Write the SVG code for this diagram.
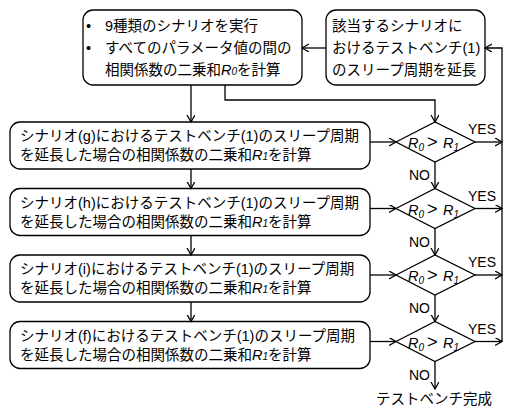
<svg xmlns="http://www.w3.org/2000/svg" width="511" height="407" viewBox="0 0 511 407">
<style>
.box{fill:#fff;stroke:#000;stroke-width:1.3}
.ln{fill:none;stroke:#000;stroke-width:1.3}
text{font-family:"Liberation Sans","Noto Sans CJK JP",sans-serif;font-size:14.5px;fill:#000}
.it{font-style:italic}
.sub{font-style:italic;font-size:10px}
.gt{font-size:18px}
.lbl{font-size:14px}
</style>
<defs>
<marker id="ah" markerWidth="10" markerHeight="10" refX="7" refY="4" orient="auto" markerUnits="userSpaceOnUse">
<path d="M0,0 L7,4 L0,8" fill="none" stroke="#000" stroke-width="1.3"/>
</marker>
</defs>

<g id="start">
<rect class="box" x="83" y="10" width="219" height="75" rx="10"/>
<text x="86" y="31">•</text><text x="105" y="31">9種類のシナリオを実行</text>
<text x="86" y="53">•</text><text x="105" y="53">すべてのパラメータ値の間の</text>
<text x="105" y="75">相関係数の二乗和<tspan class="it">R</tspan><tspan class="sub">0</tspan>を計算</text>
</g>

<g id="extend">
<rect class="box" x="326" y="10" width="159" height="75" rx="10"/>
<text x="332" y="31">該当するシナリオに</text>
<text x="332" y="53">おけるテストベンチ(1)</text>
<text x="332" y="75">のスリープ周期を延長</text>
</g>

<g id="proc-g">
<rect class="box" x="10" y="122" width="360" height="47" rx="10"/>
<text x="20" y="141">シナリオ(g)におけるテストベンチ(1)のスリープ周期</text>
<text x="20" y="160">を延長した場合の相関係数の二乗和<tspan class="it">R</tspan><tspan class="sub">1</tspan>を計算</text>
</g>
<g id="proc-h">
<rect class="box" x="10" y="188.5" width="360" height="47" rx="10"/>
<text x="20" y="207.5">シナリオ(h)におけるテストベンチ(1)のスリープ周期</text>
<text x="20" y="226.5">を延長した場合の相関係数の二乗和<tspan class="it">R</tspan><tspan class="sub">1</tspan>を計算</text>
</g>
<g id="proc-i">
<rect class="box" x="10" y="255" width="360" height="47" rx="10"/>
<text x="20" y="274">シナリオ(i)におけるテストベンチ(1)のスリープ周期</text>
<text x="20" y="293">を延長した場合の相関係数の二乗和<tspan class="it">R</tspan><tspan class="sub">1</tspan>を計算</text>
</g>
<g id="proc-f">
<rect class="box" x="10" y="321.5" width="360" height="47" rx="10"/>
<text x="20" y="340.5">シナリオ(f)におけるテストベンチ(1)のスリープ周期</text>
<text x="20" y="359.5">を延長した場合の相関係数の二乗和<tspan class="it">R</tspan><tspan class="sub">1</tspan>を計算</text>
</g>

<g id="dec1">
<polygon class="box" points="396,142 435,122 475,142 435,162"/>
<text y="148"><tspan class="it" x="408">R</tspan><tspan class="sub" dy="3">0</tspan><tspan class="gt" x="427" dy="-3">&gt;</tspan><tspan class="it" x="443">R</tspan><tspan class="sub" dy="3">1</tspan></text>
</g>
<g id="dec2">
<polygon class="box" points="396,208.5 435,188.5 475,208.5 435,228.5"/>
<text y="214.5"><tspan class="it" x="408">R</tspan><tspan class="sub" dy="3">0</tspan><tspan class="gt" x="427" dy="-3">&gt;</tspan><tspan class="it" x="443">R</tspan><tspan class="sub" dy="3">1</tspan></text>
</g>
<g id="dec3">
<polygon class="box" points="396,275 435,255 475,275 435,295"/>
<text y="281"><tspan class="it" x="408">R</tspan><tspan class="sub" dy="3">0</tspan><tspan class="gt" x="427" dy="-3">&gt;</tspan><tspan class="it" x="443">R</tspan><tspan class="sub" dy="3">1</tspan></text>
</g>
<g id="dec4">
<polygon class="box" points="396,341.5 435,321.5 475,341.5 435,361.5"/>
<text y="347.5"><tspan class="it" x="408">R</tspan><tspan class="sub" dy="3">0</tspan><tspan class="gt" x="427" dy="-3">&gt;</tspan><tspan class="it" x="443">R</tspan><tspan class="sub" dy="3">1</tspan></text>
</g>

<g id="end">
<text x="434" y="404" text-anchor="middle">テストベンチ完成</text>
</g>

<g id="connectors">
<path class="ln" d="M191,85 V122" marker-end="url(#ah)"/>
<path class="ln" d="M225,85 V100 H435 V122" marker-end="url(#ah)"/>
<path class="ln" d="M326,48 H302" marker-end="url(#ah)"/>
<path class="ln" d="M502,341.5 V48 H485" marker-end="url(#ah)"/>
<path class="ln" d="M191,169 V188.5" marker-end="url(#ah)"/>
<path class="ln" d="M191,235.5 V255" marker-end="url(#ah)"/>
<path class="ln" d="M191,302 V321.5" marker-end="url(#ah)"/>
<path class="ln" d="M370,142 H396" marker-end="url(#ah)"/>
<path class="ln" d="M370,208.5 H396" marker-end="url(#ah)"/>
<path class="ln" d="M370,275 H396" marker-end="url(#ah)"/>
<path class="ln" d="M370,341.5 H396" marker-end="url(#ah)"/>
<path class="ln" d="M475,142 H502" marker-end="url(#ah)"/>
<path class="ln" d="M475,208.5 H502" marker-end="url(#ah)"/>
<path class="ln" d="M475,275 H502" marker-end="url(#ah)"/>
<path class="ln" d="M475,341.5 H502" marker-end="url(#ah)"/>
<path class="ln" d="M435,162 V188.5" marker-end="url(#ah)"/>
<path class="ln" d="M435,228.5 V255" marker-end="url(#ah)"/>
<path class="ln" d="M435,295 V321.5" marker-end="url(#ah)"/>
<path class="ln" d="M435,361.5 V389" marker-end="url(#ah)"/>
<text class="lbl" x="468" y="134">YES</text>
<text class="lbl" x="468" y="200.5">YES</text>
<text class="lbl" x="468" y="267">YES</text>
<text class="lbl" x="468" y="333.5">YES</text>
<text class="lbl" x="409" y="180">NO</text>
<text class="lbl" x="409" y="246.5">NO</text>
<text class="lbl" x="409" y="313">NO</text>
<text class="lbl" x="409" y="380">NO</text>
</g>
</svg>
